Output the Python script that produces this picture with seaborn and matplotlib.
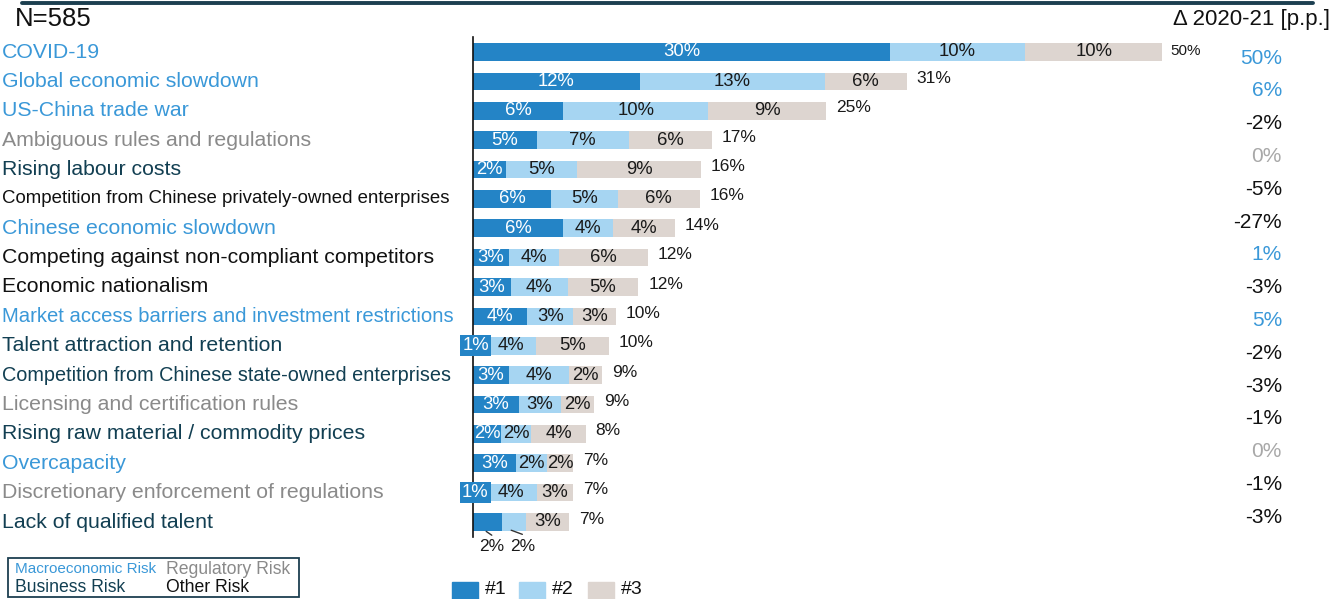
import matplotlib
matplotlib.use("Agg")
import matplotlib.pyplot as plt
import matplotlib.transforms as mtransforms
import seaborn as sns
import pandas as pd
import numpy as np

# ---------------- data ----------------
categories = [
    "COVID-19",
    "Global economic slowdown",
    "US-China trade war",
    "Ambiguous rules and regulations",
    "Rising labour costs",
    "Competition from Chinese privately-owned enterprises",
    "Chinese economic slowdown",
    "Competing against non-compliant competitors",
    "Economic nationalism",
    "Market access barriers and investment restrictions",
    "Talent attraction and retention",
    "Competition from Chinese state-owned enterprises",
    "Licensing and certification rules",
    "Rising raw material / commodity prices",
    "Overcapacity",
    "Discretionary enforcement of regulations",
    "Lack of qualified talent",
]
risk_type = ["macro", "macro", "macro", "reg", "bus", "other", "macro", "other",
             "other", "macro", "bus", "bus", "reg", "bus", "macro", "reg", "bus"]

rank1 = [30.0, 12.0, 6.5, 4.6, 2.4, 5.6, 6.5, 2.6, 2.7, 3.9, 1.0, 2.6, 3.3, 2.0, 3.1, 0.9, 2.1]
rank2 = [9.7, 13.3, 10.4, 6.6, 5.1, 4.8, 3.6, 3.6, 4.1, 3.3, 3.5, 4.3, 3.0, 2.2, 2.2, 3.7, 1.7]
rank3 = [9.9, 5.9, 8.5, 6.0, 8.9, 5.9, 4.4, 6.4, 5.1, 3.1, 5.3, 2.4, 2.4, 3.9, 1.9, 2.6, 3.1]

label1 = [30, 12, 6, 5, 2, 6, 6, 3, 3, 4, 1, 3, 3, 2, 3, 1, 2]
label2 = [10, 13, 10, 7, 5, 5, 4, 4, 4, 3, 4, 4, 3, 2, 2, 4, 2]
label3 = [10, 6, 9, 6, 9, 6, 4, 6, 5, 3, 5, 2, 2, 4, 2, 3, 3]
totals = [50, 31, 25, 17, 16, 16, 14, 12, 12, 10, 10, 9, 9, 8, 7, 7, 7]

delta = [50, 6, -2, 0, -5, -27, 1, -3, 5, -2, -3, -1, 0, -1, -3]

legend_ranks = ["#1", "#2", "#3"]
risk_legend = [("Macroeconomic Risk", "macro"), ("Regulatory Risk", "reg"),
               ("Business Risk", "bus"), ("Other Risk", "other")]

# ---------------- style ----------------
C1, C2, C3 = "#2484c6", "#a6d5f2", "#ddd5d0"
risk_colors = {"macro": "#3a98d8", "reg": "#8a8a8a", "bus": "#123f52", "other": "#111111"}
DARK = "#1c3f50"
label_sizes = {
    "Competition from Chinese privately-owned enterprises": 13.4,
    "Market access barriers and investment restrictions": 14.6,
    "Competition from Chinese state-owned enterprises": 14.3,
}

sns.set_theme(style="white")
plt.rcParams["font.family"] = ["Liberation Sans", "DejaVu Sans"]

W, H = 1334, 599
fig = plt.figure(figsize=(W / 100, H / 100), dpi=100)

px_per = 13.9
x0 = 473
row_top, row_bot = 52, 522
step = (row_bot - row_top) / (len(categories) - 1)
ax_top = row_top - step / 2
ax_bot = row_bot + step / 2
ax = fig.add_axes([x0 / W, 1 - ax_bot / H, (W - x0) / W, (ax_bot - ax_top) / H])
ax.set_xlim(0, (W - x0) / px_per)

df = pd.DataFrame({"cat": categories, "r1": rank1, "r2": rank2, "r3": rank3})
df["c1"] = df["r1"]
df["c2"] = df["r1"] + df["r2"]
df["c3"] = df["c2"] + df["r3"]

bh = 0.6
for col, color in [("c3", C3), ("c2", C2), ("c1", C1)]:
    sns.barplot(data=df, x=col, y="cat", order=categories, color=color,
                width=bh, orient="h", ax=ax, saturation=1, linewidth=0)

ax.set_ylim(len(categories) - 0.5, -0.5)
ax.set_xlabel("")
ax.set_ylabel("")
ax.set_xticks([])
ax.set_yticks([])
for s in ["top", "right", "bottom"]:
    ax.spines[s].set_visible(False)
ax.spines["left"].set_color("#111111")
ax.spines["left"].set_linewidth(1.2)

SEG_FS = 13.3
# segment labels
for i in range(len(categories)):
    a, b, c = rank1[i], rank2[i], rank3[i]
    last = i == len(categories) - 1
    if not last:
        if label1[i] == 1:
            ax.text(a / 2 - 0.3, i, f"{label1[i]}%", ha="center", va="center",
                    color="white", fontsize=SEG_FS,
                    bbox=dict(boxstyle="square,pad=0.12", fc=C1, ec="none"))
        else:
            ax.text(a / 2, i, f"{label1[i]}%", ha="center", va="center",
                    color="white", fontsize=SEG_FS)
        ax.text(a + b / 2, i, f"{label2[i]}%", ha="center", va="center",
                color="#1a1a1a", fontsize=SEG_FS)
    ax.text(a + b + c / 2, i, f"{label3[i]}%", ha="center", va="center",
            color="#1a1a1a", fontsize=SEG_FS)
    tot = a + b + c
    if i == 0:
        ax.text(tot + 0.55, i - 0.05, f"{totals[i]}%", ha="left", va="center",
                color="#1a1a1a", fontsize=11)
    else:
        ax.text(tot + 0.7, i - 0.1, f"{totals[i]}%", ha="left", va="center",
                color="#1a1a1a", fontsize=12.5)

# last row labels below with leader lines
i = len(categories) - 1
a, b = rank1[i], rank2[i]
ax.plot([a / 2 - 0.1, a / 2 + 0.3], [i + 0.32, i + 0.45], color="#333333", lw=1)
ax.plot([a + b / 2 - 0.2, a + b / 2 + 0.6], [i + 0.28, i + 0.42], color="#333333", lw=1)
ax.text(a / 2 + 0.3, i + 0.82, f"{label1[i]}%", ha="center", va="center",
        color="#1a1a1a", fontsize=12.5, clip_on=False)
ax.text(a + b / 2 + 0.6, i + 0.82, f"{label2[i]}%", ha="center", va="center",
        color="#1a1a1a", fontsize=12.5, clip_on=False)

# category labels (left-aligned in figure coordinates)
trans = mtransforms.blended_transform_factory(fig.transFigure, ax.transData)
for i, (cat, rt) in enumerate(zip(categories, risk_type)):
    fs = label_sizes.get(cat, 15.3)
    ax.text(2 / W, i, cat, transform=trans, ha="left", va="center",
            color=risk_colors[rt], fontsize=fs, clip_on=False)

# delta column
for k, d in enumerate(delta):
    y = 58 + k * 32.8
    col = risk_colors["macro"] if d > 0 else ("#a8a8a8" if d == 0 else "#111111")
    fig.text(1282 / W, 1 - y / H, f"{d}%", ha="right", va="center",
             color=col, fontsize=15)

# header
fig.add_artist(plt.Line2D([22 / W, 1313 / W], [1 - 3 / H, 1 - 3 / H],
                          color=DARK, lw=2.8))
fig.text(15 / W, 1 - 19 / H, "N=585", ha="left", va="center", fontsize=18.5,
         color="#111111")
fig.text(1330 / W, 1 - 19 / H, "\u0394 2020-21 [p.p.]", ha="right", va="center",
         fontsize=16, color="#111111")

# rank legend
for k, (lab, col) in enumerate(zip(legend_ranks, [C1, C2, C3])):
    xs = [452, 519, 588][k]
    fig.patches.append(plt.Rectangle((xs / W, 0), 26 / W, 17 / H, color=col,
                                     transform=fig.transFigure))
    fig.text((xs + 33) / W, 1 - 590 / H, lab, ha="left", va="center",
             fontsize=14, color="#111111")

# risk type legend box
fig.patches.append(plt.Rectangle((8 / W, 1 - 597 / H), 291 / W, 39 / H,
                                 fill=False, ec=DARK, lw=1.3,
                                 transform=fig.transFigure))
pos = [(15, 569), (166, 569), (15, 588), (166, 588)]
sizes = [11, 12.7, 12.7, 12.7]
for (txt, rt), (px, py), fs in zip(risk_legend, pos, sizes):
    fig.text(px / W, 1 - py / H, txt, ha="left", va="center", fontsize=fs,
             color=risk_colors[rt])

fig.savefig("out.png", dpi=100)
